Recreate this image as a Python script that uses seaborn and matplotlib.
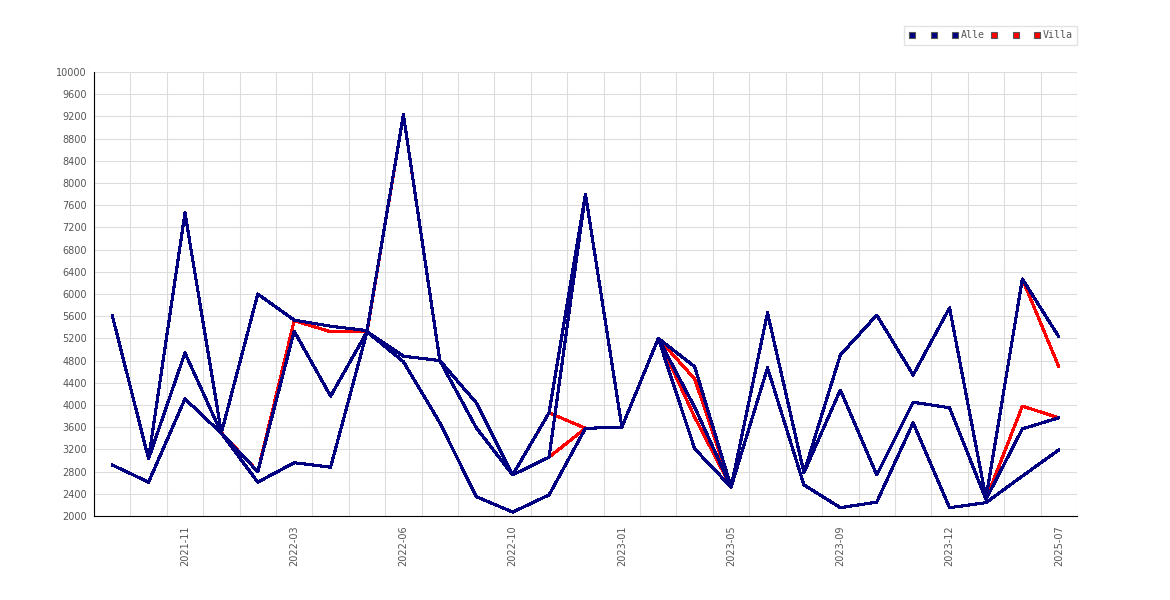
import numpy as np
import pandas as pd
import matplotlib
matplotlib.use('Agg')
import matplotlib.pyplot as plt
import seaborn as sns
from matplotlib.lines import Line2D

# Monate (nur jede dritte Beschriftung ist sichtbar)
months = ['2021-09', '2021-10', '2021-11', '2022-01', '2022-02', '2022-03',
          '2022-04', '2022-05', '2022-06', '2022-08', '2022-09', '2022-10',
          '2022-11', '2022-12', '2023-01', '2023-03', '2023-04', '2023-05',
          '2023-06', '2023-08', '2023-09', '2023-10', '2023-11', '2023-12',
          '2024-06', '2025-03', '2025-07']

# Alle Objekte
alle_1 = [5620, 3030, 7460, 3500, 6000, 5530, 5420, 5340, 9230, 4800, 3590, 2740, 3860, 7800,
          3600, 5200, 4690, 2520, 5660, 2780, 4900, 5620, 4540, 5750, 2320, 6270, 5230]
alle_2 = [5620, 3030, 4940, 3490, 2800, 5330, 4160, 5320, 4880, 4800, 4040, 2740, 3060, 7800,
          3600, 5200, 3960, 2520, 5660, 2780, 4270, 2740, 4050, 3950, 2300, 3570, 3770]
alle_3 = [2920, 2610, 4110, 3490, 2610, 2960, 2880, 5320, 4780, 3680, 2350, 2070, 2380, 3580,
          3600, 5200, 3210, 2520, 4670, 2560, 2150, 2250, 3680, 2150, 2240, 2720, 3190]

# Villen
villa_1 = [5620, 3030, 7460, 3500, 2800, 5520, 5320, 5320, 9230, 4800, 3590, 2740, 3860, 3580,
           3600, 5200, 4470, 2520, 5660, 2780, 4900, 5620, 4540, 5750, 2320, 6270, 4690]
villa_2 = [5620, 3030, 4940, 3490, 2800, 5330, 4160, 5320, 4880, 4800, 4040, 2740, 3060, 3580,
           3600, 5200, 3780, 2520, 5660, 2780, 4270, 2740, 4050, 3950, 2300, 3980, 3770]
villa_3 = [2920, 2610, 4110, 3490, 2610, 2960, 2880, 5320, 4780, 3680, 2350, 2070, 2380, 3580,
           3600, 5200, 3210, 2520, 4670, 2560, 2150, 2250, 3680, 2150, 2240, 2720, 3190]

series = {'villa_1': villa_1, 'villa_2': villa_2, 'villa_3': villa_3,
          'alle_1': alle_1, 'alle_2': alle_2, 'alle_3': alle_3}

rows = []
for name, vals in series.items():
    for i, v in enumerate(vals):
        rows.append({'pos': i, 'monat': months[i], 'wert': v, 'serie': name})
df = pd.DataFrame(rows)

NAVY = '#000080'
RED = '#ff0000'
palette = {k: (RED if k.startswith('villa') else NAVY) for k in series}

sns.set_style('white')
fig, ax = plt.subplots(figsize=(11.7, 6), dpi=100)
fig.subplots_adjust(left=0.0803, right=0.9205, top=0.88, bottom=0.14)

# Villa zuerst, Alle darueber
sns.lineplot(data=df, x='pos', y='wert', hue='serie', hue_order=list(series.keys()),
             palette=palette, linewidth=1.5, estimator=None, sort=False,
             legend=False, ax=ax)
for ln in ax.get_lines():
    ln.set_antialiased(False)

ax.set_xlim(-0.5, len(months) - 0.5)
ax.set_ylim(2000, 10000)
ax.set_yticks(range(2000, 10001, 400))
ticks = list(range(2, len(months), 3))
ax.set_xticks(ticks)
ax.set_xticklabels([months[i] for i in ticks], rotation=90)
ax.set_xticks(np.arange(-0.5, len(months), 1), minor=True)
ax.set_xlabel('')
ax.set_ylabel('')

ax.grid(False)
ax.grid(which='minor', axis='x', color='#dddddd', linewidth=0.8)
ax.grid(which='major', axis='y', color='#dddddd', linewidth=0.8)
ax.set_axisbelow(True)
ax.tick_params(which='both', length=0, labelsize=7, labelcolor='#555555')
ax.tick_params(axis='y', pad=5)
ax.tick_params(axis='x', pad=7)

for s in ['top', 'right']:
    ax.spines[s].set_visible(False)
for s in ['left', 'bottom']:
    ax.spines[s].set_color('black')
    ax.spines[s].set_linewidth(0.8)

# Legende: drei Quadrate je Gruppe, nur das letzte beschriftet
handles = []
labels = []
for col, lab in [(NAVY, 'Alle'), (RED, 'Villa')]:
    for j in range(3):
        handles.append(Line2D([], [], linestyle='none', marker='s', markersize=5,
                              markerfacecolor=col, markeredgecolor='#555555',
                              markeredgewidth=0.8))
        labels.append(lab if j == 2 else ' ')
leg = fig.legend(handles, labels, loc='upper right', bbox_to_anchor=(1077 / 1170, 1 - 26 / 600),
                 ncol=6, fancybox=False, frameon=True, edgecolor='#dddddd',
                 prop={'family': 'DejaVu Sans Mono', 'size': 7.2},
                 handlelength=0.8, handletextpad=0.17, columnspacing=0.56,
                 borderpad=0.45, borderaxespad=0)
for t in leg.get_texts():
    t.set_color('#555555')

plt.savefig('out.png', dpi=100)
